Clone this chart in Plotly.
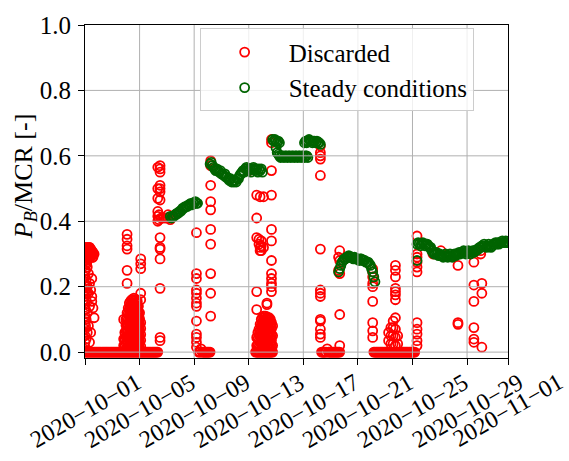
import pandas as pd
import plotly.graph_objects as go

# ---------------- data ----------------
# Steady conditions: readings every 2 h, starting at each start time
green_starts = ["2020-10-07 06:00", "2020-10-10 04:00", "2020-10-14 18:00",
                "2020-10-15 00:00", "2020-10-17 02:00", "2020-10-19 14:00",
                "2020-10-25 08:00"]
green_seg_1 = [0.415, 0.41, 0.415, 0.415, 0.42, 0.42, 0.425, 0.425, 0.43, 0.43,
               0.435, 0.44, 0.44, 0.445, 0.445, 0.445, 0.45, 0.45, 0.455, 0.45,
               0.455, 0.455, 0.46, 0.455, 0.455]
green_seg_2 = [0.575, 0.58, 0.57, 0.565, 0.56, 0.555, 0.56, 0.555, 0.55, 0.555,
               0.545, 0.545, 0.54, 0.545, 0.535, 0.535, 0.53, 0.525, 0.53, 0.52,
               0.525, 0.52, 0.525, 0.52, 0.53, 0.53, 0.54, 0.545, 0.55, 0.555,
               0.55, 0.56, 0.565, 0.56, 0.555, 0.56, 0.55, 0.56, 0.565, 0.56,
               0.555, 0.56, 0.55, 0.56, 0.555, 0.56, 0.55]
green_seg_3 = [0.65, 0.645, 0.65, 0.645, 0.64, 0.645, 0.64]
green_seg_4 = [0.625, 0.61, 0.605, 0.60, 0.595, 0.60, 0.60, 0.595, 0.60, 0.60,
               0.595, 0.60, 0.60, 0.595, 0.60, 0.60, 0.595, 0.60, 0.60, 0.595,
               0.60, 0.60, 0.595, 0.60, 0.60, 0.595, 0.60, 0.60, 0.595]
green_seg_5 = [0.64, 0.645, 0.64, 0.645, 0.65, 0.645, 0.645, 0.64, 0.645, 0.645,
               0.64, 0.645, 0.64, 0.64, 0.635]
green_seg_6 = [0.245, 0.255, 0.265, 0.275, 0.28, 0.285, 0.285, 0.29, 0.29, 0.295,
               0.29, 0.29, 0.29, 0.285, 0.29, 0.285, 0.285, 0.285, 0.28, 0.285,
               0.285, 0.28, 0.28, 0.28, 0.275, 0.275, 0.275, 0.27, 0.265, 0.255,
               0.245, 0.23, 0.215]
green_seg_7 = [0.33, 0.335, 0.33, 0.325, 0.33, 0.335, 0.33, 0.325, 0.33, 0.33,
               0.325, 0.32, 0.32, 0.31, 0.305, 0.30, 0.30, 0.305, 0.30, 0.295,
               0.30, 0.295, 0.295, 0.29, 0.295, 0.30, 0.295, 0.29, 0.295, 0.30,
               0.295, 0.29, 0.295, 0.30, 0.295, 0.30, 0.30, 0.305, 0.30, 0.305,
               0.305, 0.31, 0.305, 0.30, 0.305, 0.31, 0.305, 0.30, 0.305, 0.31,
               0.305, 0.31, 0.31, 0.315, 0.315, 0.32, 0.32, 0.325, 0.325, 0.33,
               0.325, 0.32, 0.325, 0.33, 0.325, 0.32, 0.325, 0.33, 0.33, 0.335,
               0.33, 0.335, 0.33, 0.335, 0.335, 0.34, 0.335, 0.335, 0.34, 0.335,
               0.335]
green_segments = [green_seg_1, green_seg_2, green_seg_3, green_seg_4,
                  green_seg_5, green_seg_6, green_seg_7]
green_extra_times = ["2020-10-25 08:00"]
green_extra_values = [0.28]

# Discarded: near-zero runs, readings every 2 h from each start time
red_base_starts = ["2020-10-01 00:00", "2020-10-09 08:00", "2020-10-13 12:00",
                   "2020-10-18 08:00", "2020-10-22 04:00"]
red_base_1 = [0.0, 0.0, 0.0, 0.0, 0.0, 0.0, 0.0, 0.0, 0.0, 0.0,
              0.0, 0.0, 0.0, 0.0, 0.0, 0.0, 0.0, 0.0, 0.0, 0.0,
              0.0, 0.0, 0.0, 0.0, 0.0, 0.0, 0.0, 0.0, 0.0, 0.0,
              0.0, 0.0, 0.0, 0.0, 0.0, 0.0, 0.0, 0.0, 0.0, 0.0,
              0.0, 0.0, 0.0, 0.0, 0.0, 0.0, 0.0, 0.0, 0.0, 0.0,
              0.0, 0.0, 0.0, 0.0, 0.0, 0.0, 0.0, 0.0, 0.0, 0.0,
              0.0, 0.0, 0.0, 0.0, 0.0]
red_base_2 = [0.0, 0.0, 0.01, 0.0, 0.0, 0.0, 0.0, 0.0, 0.0, 0.0, 0.0]
red_base_3 = [0.0, 0.0, 0.0, 0.0, 0.0, 0.0, 0.0, 0.0,
              0.0, 0.0, 0.0, 0.0, 0.0, 0.0, 0.0, 0.0]
red_base_4 = [0.0, 0.0, 0.0, 0.0, 0.0, 0.01, 0.0, 0.0, 0.0,
              0.0, 0.0, 0.0, 0.0, 0.0, 0.0, 0.0, 0.0]
red_base_5 = [0.0, 0.0, 0.0, 0.0, 0.0, 0.0, 0.0, 0.0, 0.0, 0.0,
              0.0, 0.0, 0.0, 0.0, 0.0, 0.0, 0.0, 0.0, 0.0, 0.0,
              0.0, 0.0, 0.0, 0.0, 0.0, 0.0, 0.0, 0.0, 0.0, 0.0,
              0.0, 0.0, 0.0, 0.0, 0.0, 0.0, 0.0]
red_base_segments = [red_base_1, red_base_2, red_base_3, red_base_4, red_base_5]

# Discarded: scattered readings, grouped by time stamp
red_col_times = [
    "2020-10-01 00:00", "2020-10-01 01:00", "2020-10-01 02:00", "2020-10-01 03:00",
    "2020-10-01 04:00", "2020-10-01 05:00", "2020-10-01 06:00", "2020-10-01 07:00",
    "2020-10-01 08:00", "2020-10-01 09:00", "2020-10-01 10:00", "2020-10-01 11:00",
    "2020-10-01 12:00", "2020-10-01 13:00", "2020-10-01 14:00", "2020-10-01 16:00",
    "2020-10-03 20:00", "2020-10-03 22:00", "2020-10-04 00:00", "2020-10-04 02:00",
    "2020-10-04 04:00", "2020-10-04 06:00", "2020-10-04 08:00", "2020-10-04 10:00",
    "2020-10-04 12:00", "2020-10-04 14:00", "2020-10-04 16:00", "2020-10-04 18:00",
    "2020-10-04 20:00", "2020-10-04 22:00", "2020-10-05 00:00", "2020-10-05 02:00",
    "2020-10-06 08:00", "2020-10-06 10:00", "2020-10-06 12:00", "2020-10-06 14:00",
    "2020-10-06 18:00", "2020-10-06 22:00", "2020-10-07 02:00", "2020-10-07 06:00",
    "2020-10-09 04:00", "2020-10-10 05:00",
    "2020-10-12 20:00", "2020-10-13 00:00", "2020-10-13 08:00",
    "2020-10-13 14:00", "2020-10-13 16:00", "2020-10-13 18:00", "2020-10-13 20:00",
    "2020-10-13 22:00", "2020-10-14 00:00", "2020-10-14 02:00", "2020-10-14 04:00",
    "2020-10-14 06:00", "2020-10-14 08:00", "2020-10-14 10:00", "2020-10-14 12:00",
    "2020-10-14 14:00", "2020-10-14 16:00", "2020-10-14 18:00",
    "2020-10-18 06:00", "2020-10-19 14:00", "2020-10-19 16:00", "2020-10-22 02:00",
    "2020-10-23 06:00", "2020-10-23 10:00", "2020-10-23 14:00", "2020-10-23 18:00",
    "2020-10-23 22:00",
    "2020-10-25 08:00", "2020-10-26 12:00", "2020-10-27 02:00", "2020-10-28 08:00",
    "2020-10-29 12:00", "2020-10-30 00:00", "2020-10-30 02:00",
]
red_col_values = [
    [0.32, 0.305, 0.29, 0.27, 0.25, 0.23, 0.21, 0.19, 0.17, 0.15, 0.13, 0.11,
     0.09, 0.07, 0.05, 0.03, 0.015],
    [0.31, 0.295, 0.25, 0.20, 0.13, 0.08],
    [0.315, 0.30, 0.28, 0.22, 0.16, 0.10, 0.04],
    [0.31, 0.295, 0.27, 0.18],
    [0.32, 0.305, 0.29, 0.26, 0.20, 0.12, 0.06],
    [0.315, 0.30, 0.285],
    [0.31, 0.295, 0.24, 0.18, 0.08],
    [0.32, 0.305, 0.29],
    [0.32, 0.30, 0.29, 0.21, 0.14, 0.03],
    [0.31, 0.295],
    [0.315, 0.30, 0.19, 0.06],
    [0.31, 0.295],
    [0.31, 0.295, 0.225, 0.17, 0.155],
    [0.30, 0.29],
    [0.305, 0.29, 0.135],
    [0.30, 0.105],
    [0.10, 0.04, 0.02],
    [0.06, 0.04, 0.02],
    [0.10, 0.082, 0.064, 0.046, 0.028, 0.01],
    [0.36, 0.345, 0.325, 0.315, 0.25, 0.21, 0.12, 0.102, 0.084, 0.066, 0.048,
     0.03, 0.012],
    [0.135, 0.117, 0.099, 0.081, 0.063, 0.045, 0.027, 0.009],
    [0.15, 0.132, 0.114, 0.096, 0.078, 0.06, 0.042, 0.024],
    [0.155, 0.137, 0.119, 0.101, 0.083, 0.065, 0.047, 0.029, 0.011],
    [0.16, 0.142, 0.124, 0.106, 0.088, 0.07, 0.052, 0.034, 0.016],
    [0.16, 0.15, 0.132, 0.114, 0.096, 0.078, 0.06, 0.042, 0.024],
    [0.165, 0.147, 0.129, 0.111, 0.093, 0.075, 0.057, 0.039, 0.021],
    [0.16, 0.142, 0.124, 0.106, 0.088, 0.07, 0.052, 0.034, 0.016],
    [0.16, 0.15, 0.132, 0.114, 0.096, 0.078, 0.06, 0.042, 0.024],
    [0.155, 0.137, 0.119, 0.101, 0.083, 0.065, 0.047, 0.029, 0.011],
    [0.14, 0.122, 0.104, 0.086, 0.068, 0.05, 0.032, 0.014],
    [0.12, 0.102, 0.084, 0.066, 0.048, 0.03, 0.012],
    [0.285, 0.27, 0.255, 0.18, 0.16, 0.09, 0.072, 0.054, 0.036, 0.018],
    [0.565, 0.50, 0.47, 0.43, 0.415, 0.40],
    [0.42, 0.405],
    [0.57, 0.56, 0.55, 0.51, 0.50, 0.49, 0.465, 0.35, 0.32, 0.315, 0.285, 0.195,
     0.045, 0.035],
    [0.41],
    [0.41],
    [0.41],
    [0.41, 0.42],
    [0.405],
    [0.365, 0.24, 0.225, 0.19, 0.18, 0.165, 0.15, 0.14, 0.095, 0.055, 0.045, 0.03,
     0.015],
    [0.585, 0.57, 0.51, 0.46, 0.435, 0.375, 0.33, 0.24, 0.18, 0.11],
    [0.56],
    [0.555],
    [0.56],
    [0.48, 0.41, 0.35, 0.185, 0.13, 0.045, 0.02],
    [0.06, 0.04, 0.02],
    [0.345, 0.33, 0.07, 0.052, 0.034, 0.016],
    [0.475, 0.32, 0.31, 0.085, 0.067, 0.049, 0.031, 0.013],
    [0.34, 0.325, 0.31, 0.10, 0.082, 0.064, 0.046, 0.028, 0.01],
    [0.105, 0.087, 0.069, 0.051, 0.033, 0.015],
    [0.475, 0.32, 0.11, 0.092, 0.074, 0.056, 0.038, 0.02],
    [0.11, 0.092, 0.074, 0.056, 0.038, 0.02],
    [0.11, 0.095, 0.077, 0.059, 0.041, 0.023, 0.005],
    [0.15, 0.145, 0.105, 0.087, 0.069, 0.051, 0.033, 0.015],
    [0.105, 0.087, 0.069, 0.051, 0.033, 0.015],
    [0.105, 0.09, 0.072, 0.054, 0.036, 0.018],
    [0.10, 0.082, 0.064, 0.046, 0.028, 0.01],
    [0.65, 0.64, 0.555, 0.48, 0.375, 0.34, 0.28, 0.24, 0.225, 0.21, 0.20, 0.185,
     0.09, 0.072, 0.054, 0.036, 0.018],
    [0.08, 0.05, 0.02],
    [0.63, 0.61, 0.60, 0.59, 0.54, 0.315, 0.19, 0.18, 0.17, 0.10, 0.095, 0.07,
     0.055, 0.045],
    [0.29, 0.25],
    [0.31, 0.28, 0.24, 0.115, 0.02],
    [0.255, 0.245, 0.23, 0.21, 0.20, 0.155, 0.09, 0.065, 0.045],
    [0.06, 0.035],
    [0.075, 0.05, 0.025],
    [0.095, 0.075, 0.05, 0.025],
    [0.265, 0.25, 0.23, 0.195, 0.185, 0.175, 0.16, 0.105, 0.07, 0.045, 0.02],
    [0.05, 0.025],
    [0.355, 0.30, 0.29, 0.275, 0.26, 0.245, 0.09, 0.07, 0.055, 0.035, 0.02],
    [0.30],
    [0.31],
    [0.265, 0.09, 0.085],
    [0.275, 0.205, 0.155, 0.075, 0.04, 0.03],
    [0.31, 0.30],
    [0.21, 0.18, 0.015],
]

x_tick_dates = ["2020-10-01", "2020-10-05", "2020-10-09", "2020-10-13", "2020-10-17",
                "2020-10-21", "2020-10-25", "2020-10-29", "2020-11-01"]
x_tick_labels = ["2020\u221210\u221201", "2020\u221210\u221205", "2020\u221210\u221209",
                 "2020\u221210\u221213", "2020\u221210\u221217", "2020\u221210\u221221",
                 "2020\u221210\u221225", "2020\u221210\u221229", "2020\u221211\u221201"]
y_tick_values = [0.0, 0.2, 0.4, 0.6, 0.8, 1.0]
y_tick_labels = ["0.0", "0.2", "0.4", "0.6", "0.8", "1.0"]


# ---------------- build series ----------------
def expand_runs(starts, runs):
    xs, ys = [], []
    for start, vals in zip(starts, runs):
        xs.extend(pd.date_range(start, periods=len(vals), freq="2h"))
        ys.extend(vals)
    return xs, ys


red_x, red_y = expand_runs(red_base_starts, red_base_segments)
for t, vals in zip(red_col_times, red_col_values):
    red_x.extend([pd.Timestamp(t)] * len(vals))
    red_y.extend(vals)

green_x, green_y = expand_runs(green_starts, green_segments)
green_x.extend(pd.to_datetime(green_extra_times))
green_y.extend(green_extra_values)

FONT = "Liberation Serif"

fig = go.Figure()
fig.add_trace(go.Scatter(
    x=red_x, y=red_y, mode="markers", name="Discarded",
    marker=dict(symbol="circle-open", size=9, color="#ff0000", line=dict(width=1.8)),
))
fig.add_trace(go.Scatter(
    x=green_x, y=green_y, mode="markers", name="Steady conditions",
    marker=dict(symbol="circle-open", size=9, color="#006400", line=dict(width=1.8)),
))

shapes = []
for d in x_tick_dates[1:-1]:
    shapes.append(dict(type="line", xref="x", yref="paper", x0=d, x1=d, y0=0, y1=1,
                       line=dict(color="#b0b0b0", width=1), layer="above"))
for v in y_tick_values[:-1]:
    shapes.append(dict(type="line", xref="paper", yref="y", x0=0, x1=1, y0=v, y1=v,
                       line=dict(color="#b0b0b0", width=1), layer="above"))

annotations = []
for d, lab in zip(x_tick_dates, x_tick_labels):
    annotations.append(dict(x=d, xref="x", y=0, yref="paper", text=lab,
                            textangle=-30, xanchor="center", yanchor="top",
                            yshift=-8, showarrow=False,
                            font=dict(family=FONT, size=24, color="black")))
annotations.append(dict(x=0, xref="paper", xshift=-60, y=0.546, yref="paper",
                        text="<i>P</i><sub><i>B</i></sub>/MCR [-]", textangle=-90,
                        xanchor="center", yanchor="middle", showarrow=False,
                        font=dict(family=FONT, size=26, color="black")))

fig.update_layout(
    width=569, height=461,
    margin=dict(l=85, r=61, t=19, b=103),
    paper_bgcolor="white", plot_bgcolor="white",
    font=dict(family=FONT, size=24, color="black"),
    shapes=shapes, annotations=annotations,
    showlegend=True,
    legend=dict(x=0.271, y=0.99, xanchor="left", yanchor="top",
                bgcolor="rgba(255,255,255,0.8)", bordercolor="#cccccc", borderwidth=1,
                font=dict(family=FONT, size=25, color="black"), itemwidth=78,
                entrywidth=215, entrywidthmode="pixels",
                tracegroupgap=0),
)
fig.update_xaxes(type="date", range=["2020-10-01", "2020-11-01"],
                 tickvals=x_tick_dates, showticklabels=False,
                 ticks="outside", ticklen=6, tickwidth=1, tickcolor="black",
                 showgrid=False, zeroline=False,
                 showline=True, linecolor="black", linewidth=1, mirror=True)
fig.update_yaxes(range=[-0.018, 1.0], tickvals=y_tick_values, ticktext=y_tick_labels,
                 ticks="outside", ticklen=6, tickwidth=1, tickcolor="black",
                 tickfont=dict(family=FONT, size=25, color="black"),
                 ticklabelstandoff=2,
                 showgrid=False, zeroline=False,
                 showline=True, linecolor="black", linewidth=1, mirror=True)

fig.write_html("out.html")
